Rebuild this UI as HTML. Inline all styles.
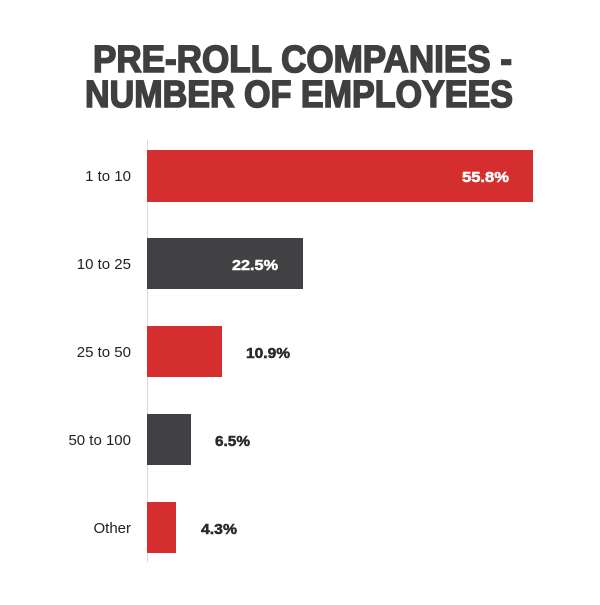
<!DOCTYPE html>
<html><head><style>body{margin:0;background:#fff}</style></head><body>
<svg width="600" height="600" xmlns="http://www.w3.org/2000/svg" font-family="'Liberation Sans',sans-serif">
<rect width="600" height="600" fill="#fff"/>
<g fill="#3f3f41" stroke="#3f3f41" stroke-width="1.6" font-weight="bold" font-size="38">
<text x="93" y="72" textLength="419" lengthAdjust="spacingAndGlyphs">PRE-ROLL COMPANIES -</text>
<text x="85" y="107" textLength="428" lengthAdjust="spacingAndGlyphs">NUMBER OF EMPLOYEES</text>
</g>
<line x1="147.5" y1="140" x2="147.5" y2="562" stroke="#d8d8d8" stroke-width="1"/>
<rect x="147" y="150" width="386" height="52" fill="#d42e2f"/>
<rect x="147" y="238" width="156" height="51" fill="#414143"/>
<rect x="147" y="326" width="75" height="51" fill="#d42e2f"/>
<rect x="147" y="414" width="44" height="51" fill="#414143"/>
<rect x="147" y="502" width="29" height="51" fill="#d42e2f"/>
<g font-size="15" fill="#222" text-anchor="end">
<text x="131" y="181">1 to 10</text>
<text x="131" y="269">10 to 25</text>
<text x="131" y="357">25 to 50</text>
<text x="131" y="445">50 to 100</text>
<text x="131" y="533">Other</text>
</g>
<g font-size="15" font-weight="bold" stroke-width="0.5">
<text x="462" y="182" fill="#fff" stroke="#fff" textLength="47" lengthAdjust="spacingAndGlyphs">55.8%</text>
<text x="232" y="270" fill="#fff" stroke="#fff" textLength="46" lengthAdjust="spacingAndGlyphs">22.5%</text>
<text x="246" y="358" fill="#2b2b2b" stroke="#2b2b2b" textLength="44" lengthAdjust="spacingAndGlyphs">10.9%</text>
<text x="215" y="446" fill="#2b2b2b" stroke="#2b2b2b" textLength="35" lengthAdjust="spacingAndGlyphs">6.5%</text>
<text x="201" y="534" fill="#2b2b2b" stroke="#2b2b2b" textLength="36" lengthAdjust="spacingAndGlyphs">4.3%</text>
</g>
</svg>
</body></html>
